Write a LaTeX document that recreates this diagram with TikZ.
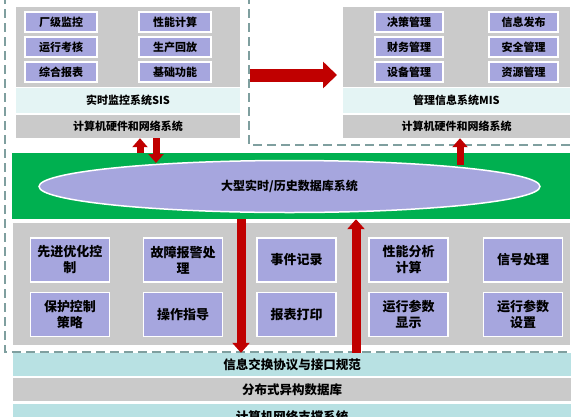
\documentclass[tikz,border=0pt]{standalone}
\usepackage{fontspec}
\setmainfont{Noto Sans CJK SC}
\usepackage{tikz}
\usetikzlibrary{arrows.meta, shapes.geometric}
\definecolor{colorGrey}{HTML}{CACACA}
\definecolor{colorBox}{HTML}{A6A6DE}
\definecolor{colorLight}{HTML}{E4F4F4}
\definecolor{colorTeal}{HTML}{B8E1E3}
\definecolor{colorGreen}{HTML}{00B050}
\definecolor{colorRed}{HTML}{C00000}
\definecolor{colorDash}{HTML}{7F9F9F}

\begin{document}
\begin{tikzpicture}[x=1pt, y=-1pt,
    modbox/.style={fill=colorBox, draw=white, line width=1.5pt, minimum width=72pt,
        minimum height=20pt, inner sep=0pt, font=\fontsize{11}{13}\selectfont\bfseries},
    bigbox/.style={modbox, minimum width=79pt, minimum height=44pt, align=center,
        font=\fontsize{13}{16}\selectfont\bfseries},
    band/.style={inner sep=0pt, font=\fontsize{11}{13}\selectfont\bfseries},
    lowband/.style={band, minimum width=558pt, minimum height=23pt, font=\fontsize{12.5}{14}\selectfont\bfseries},
    redarrow/.style={colorRed, line width=7pt, -{Triangle[width=15pt,length=9pt]}},
    fatarrow/.style={colorRed, line width=9pt, -{Triangle[width=17pt,length=10pt]}},
]
        \useasboundingbox (0,0) rectangle (571,416);

        % dashed outline
        \draw[colorDash, line width=1.5pt, dash pattern=on 9pt off 5pt] (5,-5) -- (5,352) -- (578,352);
        \draw[colorDash, line width=1.5pt, dash pattern=on 9pt off 5pt] (249,-5) -- (249,145) -- (578,145);

        % SIS
        \fill[colorGrey] (16,7) rectangle (240,87);
        \node[modbox] (cjjk) at (61,22) {厂级监控};
        \node[modbox] (yxkh) at (61,47) {运行考核};
        \node[modbox] (zhbb) at (61,72) {综合报表};
        \node[modbox] (xnjs) at (175,22) {性能计算};
        \node[modbox] (schf) at (175,47) {生产回放};
        \node[modbox] (jcgn) at (175,72) {基础功能};
        \node[band, fill=colorLight, minimum width=224pt, minimum height=25pt] (sis) at (128,100.5) {实时监控系统SIS};
        \node[band, fill=colorGrey, minimum width=224pt, minimum height=23pt] (hwL) at (128,126.5) {计算机硬件和网络系统};

        % MIS
        \fill[colorGrey] (343,7) rectangle (570,87);
        \node[modbox, minimum width=68pt] (jcgl) at (409,22) {决策管理};
        \node[modbox, minimum width=68pt] (cwgl) at (409,47) {财务管理};
        \node[modbox, minimum width=68pt] (sbgl) at (409,72) {设备管理};
        \node[modbox, minimum width=69pt] (xxfb) at (523.5,22) {信息发布};
        \node[modbox, minimum width=69pt] (aqgl) at (523.5,47) {安全管理};
        \node[modbox, minimum width=69pt] (zygl) at (523.5,72) {资源管理};
        \node[band, fill=colorLight, minimum width=227pt, minimum height=25pt] (mis) at (456.5,100.5) {管理信息系统MIS};
        \node[band, fill=colorGrey, minimum width=227pt, minimum height=23pt] (hwR) at (456.5,126.5) {计算机硬件和网络系统};

        \coordinate (bigA) at (250,75);
        \coordinate (bigB) at (337,75);
        \draw[colorRed, line width=13pt, -{Triangle[width=26pt,length=14pt]}] (bigA) -- (bigB);

        % database
        \node[fill=colorGreen, minimum width=558pt, minimum height=66pt, inner sep=0pt] (green) at (291,186) {};
        \node[ellipse, fill=colorBox, draw=white, line width=1.5pt, minimum width=501pt, minimum height=52pt,
            font=\fontsize{12}{14}\selectfont\bfseries] (db) at (289.5,186.5) {大型实时/历史数据库系统};

        \coordinate (dbin) at (156,163);
        \coordinate (dbout) at (460,165);
        \draw[redarrow] ([xshift=-151pt]green.north) -- ([xshift=12pt]hwL.south);
        \draw[redarrow] ([xshift=28pt]hwL.south) -- (dbin);
        \draw[redarrow] (dbout) -- ([xshift=3.5pt]hwR.south);

        % applications
        \fill[colorGrey] (13,223) rectangle (570,345);
        \node[bigbox] (xjyh) at (70,260) {先进优化控\\制};
        \node[bigbox] (gzbj) at (183,260) {故障报警处\\理};
        \node[bigbox] (sjjl) at (296.5,260) {事件记录};
        \node[bigbox] (xnfx) at (408.5,260) {性能分析\\计算};
        \node[bigbox] (xhcl) at (523,260) {信号处理};
        \node[bigbox] (bhkz) at (70,314.5) {保护控制\\策略};
        \node[bigbox] (czzd) at (183,314.5) {操作指导};
        \node[bigbox] (bbdy) at (296.5,314.5) {报表打印};
        \node[bigbox] (yxxs) at (408.5,314.5) {运行参数\\显示};
        \node[bigbox] (yxsz) at (523,314.5) {运行参数\\设置};

        % support layers
        \node[lowband, fill=colorTeal] (proto) at (292,364.5) {信息交换协议与接口规范};
        \node[lowband, fill=colorGrey] (dist) at (292,389.5) {分布式异构数据库};
        \node[lowband, fill=colorTeal, minimum height=26pt] (net) at (292,417) {计算机网络支撑系统};

        \draw[fatarrow] ([xshift=-50pt]green.south) -- ([xshift=-51pt]proto.north);
        \draw[fatarrow] ([xshift=64pt]proto.north) -- ([xshift=65pt]green.south);
    \end{tikzpicture}
\end{document}
